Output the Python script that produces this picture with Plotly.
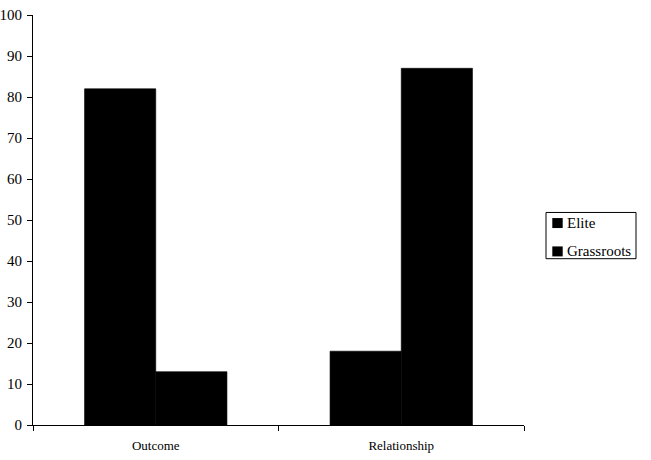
import plotly.graph_objects as go

categories = ["Outcome", "Relationship"]
elite = [82, 18]
grassroots = [13, 87]
y_ticks = [0, 10, 20, 30, 40, 50, 60, 70, 80, 90, 100]
series_names = ["Elite", "Grassroots"]

W, H = 651, 460
ML, MR, MT, MB = 33, 127, 15, 34.5
PW, PH = W - ML - MR, H - MT - MB


def px_x(x):
    return (x - ML) / PW


def px_y(y):
    return (H - MB - y) / PH


fig = go.Figure()
fig.add_trace(go.Bar(name=series_names[0], x=categories, y=elite,
                     marker=dict(color="black", line=dict(width=0.6, color="black"))))
fig.add_trace(go.Bar(name=series_names[1], x=categories, y=grassroots,
                     marker=dict(color="black", line=dict(width=0.6, color="black"))))

shapes = [dict(type="rect", xref="paper", yref="paper",
               x0=px_x(546), x1=px_x(636), y0=px_y(259), y1=px_y(212.7),
               line=dict(color="black", width=1), fillcolor="white")]
annotations = []
for i, name in enumerate(series_names):
    cy = 223.3 + i * 28.4
    shapes.append(dict(type="rect", xref="paper", yref="paper",
                       x0=px_x(552.3), x1=px_x(562.7), y0=px_y(cy + 5), y1=px_y(cy - 5),
                       line=dict(width=0), fillcolor="black"))
    annotations.append(dict(text=name, xref="paper", yref="paper", x=px_x(564.5), y=px_y(cy),
                            xanchor="left", yanchor="middle", showarrow=False,
                            font=dict(size=15, family="Liberation Serif", color="black")))

fig.update_layout(
    width=W, height=H,
    margin=dict(l=ML, r=MR, t=MT, b=MB, autoexpand=False),
    paper_bgcolor="white", plot_bgcolor="white",
    barmode="group", bargap=0.42, bargroupgap=0,
    font=dict(family="Liberation Serif", color="black", size=15),
    showlegend=False,
    shapes=shapes, annotations=annotations,
    xaxis=dict(showline=True, linecolor="black", linewidth=1, ticks="outside",
               tickson="boundaries", ticklen=5, tickcolor="black", automargin=False,
               tickfont=dict(size=13), showgrid=False, ticklabelstandoff=8),
    yaxis=dict(range=[0, 100], tickvals=y_ticks, showline=True, linecolor="black",
               linewidth=1, ticks="outside", ticklen=5, tickcolor="black", automargin=False,
               showgrid=False, zeroline=False, tickfont=dict(size=15), ticklabelstandoff=2),
)

fig.write_html("out.html")
